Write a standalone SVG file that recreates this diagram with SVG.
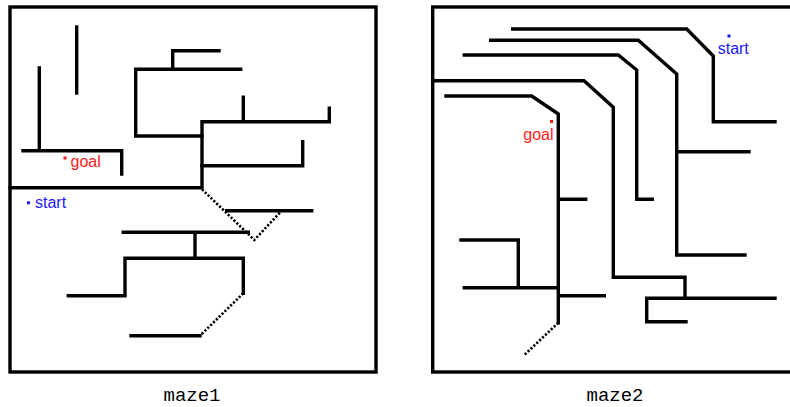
<svg xmlns="http://www.w3.org/2000/svg" width="790" height="407" viewBox="0 0 790 407">
<style>
.w{fill:none;stroke:#000;stroke-width:3.4;stroke-linecap:square;stroke-linejoin:miter}
.d{fill:none;stroke:#000;stroke-width:2.6;stroke-dasharray:2.2 1.8}
.lbl{font-family:"Liberation Sans",Arial,sans-serif;font-size:16px}
.cap{font-family:"Liberation Mono","Courier New",monospace;font-size:19px;fill:#000;text-anchor:middle}
</style>
<rect width="790" height="407" fill="#fff"/>
<g id="maze1">
<rect class="w" x="10" y="7" width="366" height="365"/>
<g id="maze1-walls">
<path class="w" d="M76.7 27V93"/>
<path class="w" d="M39.3 68V150.7M23 150.7H121.7V174"/>
<path class="w" d="M10 187.7H202V121.7H329.3V108.3M243.3 97.3V121.7"/>
<path class="w" d="M202 165.7H302.7V141.7"/>
<path class="w" d="M202 136H135.7V69.3H240.7M172.7 69.3V50.7H219"/>
<path class="d" d="M202 189.3L254.3 240L281.7 210.7"/>
<path class="w" d="M226.7 210.7H311.7"/>
<path class="w" d="M123.3 232.3H248.3M195 232.3V258.3M68.3 295.7H125V258.3H243.3V293.3"/>
<path class="d" d="M243.3 293.3L200 335.7"/>
<path class="w" d="M131 335.7H200"/>
</g>
<g id="maze1-goal">
<rect x="63.5" y="156.5" width="3" height="3" fill="#ff1a1a"/>
<text class="lbl" x="70.5" y="167" fill="#ff1a1a">goal</text>
</g>
<g id="maze1-start">
<rect x="27" y="201.3" width="3" height="3" fill="#1a1aff"/>
<text class="lbl" x="35" y="208" fill="#1a1aff">start</text>
</g>
<text class="cap" x="192" y="401">maze1</text>
</g>
<g id="maze2">
<rect class="w" x="432.7" y="7" width="366" height="365"/>
<g id="maze2-walls">
<path class="w" d="M512.7 29H686.7L713.3 56V121.7H775"/>
<path class="w" d="M490.7 40.3H638.3L676.7 74V255H745M676.7 151.7H749"/>
<path class="w" d="M464.3 55H618.3L636.7 70V199.3H652.3"/>
<path class="w" d="M432.7 80.7H584L613.3 107.3V277.3H685V298.3M646.7 298.3H775M646.7 298.3V321.7H686"/>
<path class="w" d="M446 96H531.7L558.3 114V322.7M558.3 199.3H585.7M558.3 295.7H604.3"/>
<path class="w" d="M461 240H518.3V287.7M464.3 287.7H558.3"/>
<path class="d" d="M558.3 322.7L524.3 355"/>
</g>
<g id="maze2-goal">
<rect x="550" y="120" width="3" height="3" fill="#ff1a1a"/>
<text class="lbl" x="523.3" y="140" fill="#ff1a1a">goal</text>
</g>
<g id="maze2-start">
<rect x="727.5" y="34.5" width="3" height="3" fill="#1a1aff"/>
<text class="lbl" x="717.7" y="53.5" fill="#1a1aff">start</text>
</g>
<text class="cap" x="615" y="401">maze2</text>
</g>
</svg>
